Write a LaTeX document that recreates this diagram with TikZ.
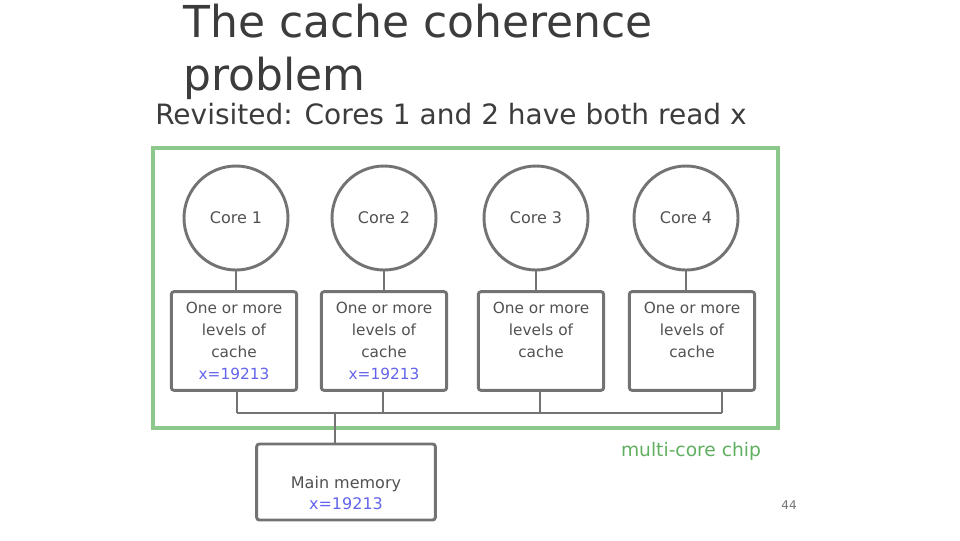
\documentclass[tikz,border=0pt]{standalone}
\usepackage{fontspec}
\setmainfont{DejaVu Sans}
\usetikzlibrary{positioning}
\definecolor{chipgreen}{RGB}{140,200,140}
\definecolor{chiptext}{RGB}{95,175,95}
\definecolor{linegray}{RGB}{115,115,115}
\definecolor{valblue}{RGB}{100,100,235}
\definecolor{titlegray}{RGB}{60,60,60}
\tikzset{
  titletext/.style={font=\fontsize{33}{40}\selectfont,text=titlegray,inner sep=0pt},
  subtext/.style={font=\fontsize{21}{24}\selectfont,text=titlegray,inner sep=0pt},
  core/.style={circle,draw=linegray,line width=2.2pt,minimum size=78pt,
    font=\fontsize{12}{14}\selectfont,text=linegray!70!black},
  cachebox/.style={draw=linegray,line width=2.2pt,rounded corners=2pt,
    minimum width=94pt,minimum height=74pt,align=center,
    font=\fontsize{11.5}{16.5}\selectfont,text=linegray!70!black},
  bus/.style={linegray,line width=2.2pt}
}
\begin{document}
\begin{tikzpicture}[x=0.75pt,y=-0.75pt]
  \useasboundingbox (0,0) rectangle (960,540);
  % heading
  \node[titletext,anchor=base west] (title) at (183,37) {The cache coherence};
  \node[titletext,anchor=base west] (title2) at (183,90) {problem};
  \node[subtext,anchor=base west] (sub) at (155,124) {Revisited: Cores 1 and 2 have both read x};
  % chip outline
  \draw[chipgreen,line width=2.6pt] (153,148) rectangle (778,428);
  \node[font=\fontsize{14}{16}\selectfont,text=chiptext] (chiplabel) at (691,451) {multi-core chip};
  % cores and caches
  \foreach \i/\cx in {1/236,2/384,3/536,4/686} {
    \node[core] (c\i) at (\cx,218) {Core \i};
  }
  \node[cachebox] (k1) at (234,341) {One or more\\levels of\\cache\\\textcolor{valblue}{x=19213}};
  \node[cachebox] (k2) at (384,341) {One or more\\levels of\\cache\\\textcolor{valblue}{x=19213}};
  \node[cachebox] (k3) at (541,341) {One or more\\levels of\\cache\\\phantom{x=19213}};
  \node[cachebox] (k4) at (692,341) {One or more\\levels of\\cache\\\phantom{x=19213}};
  \foreach \i in {1,...,4} {
    \draw[bus] (c\i.south) -- (c\i.south |- k\i.north);
  }
  % bus
  \foreach \i/\dx in {1/237,2/383,3/540,4/722} {
    \coordinate (d\i) at (\dx,413);
    \draw[bus] (d\i |- k\i.south) -- (d\i);
  }
  \draw[bus] (d1) -- (d4);
  % main memory
  \node[cachebox,minimum width=134pt,minimum height=57pt] (mem) at (346,482) {};
  \node[align=center,font=\fontsize{12}{15.5}\selectfont,text=linegray!70!black] (memtext) at (346,493)
    {Main memory\\\textcolor{valblue}{x=19213}};
  \coordinate (dm) at (335,413);
  \draw[bus] (dm) -- (dm |- mem.north);
  \node[font=\fontsize{9}{10}\selectfont,text=linegray] (pagenum) at (789,505) {44};
\end{tikzpicture}
\end{document}
